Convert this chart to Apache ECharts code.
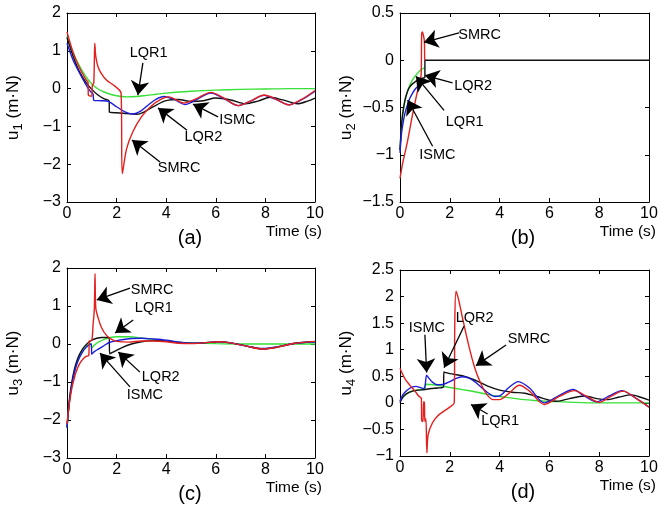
<!DOCTYPE html>
<html>
<head>
<meta charset="utf-8">
<script src="https://cdn.jsdelivr.net/npm/echarts@6/dist/echarts.min.js"></script>
<style>
html, body { margin: 0; padding: 0; background: #fff; }
#chart { width: 672px; height: 509px; }
</style>
</head>
<body>
<div id="chart"></div>
<script>
// time axis: 0..10 s, ticks every 2
const timeRange = [0, 10, 2]
// y ranges [min, max, interval] for u1..u4
const u1Range = [-3, 2, 1]
const u2Range = [-1.5, 0.5, 0.5]
const u3Range = [-3, 2, 1]
const u4Range = [-1, 2.5, 0.5]

const seriesNames = ['LQR1', 'ISMC', 'LQR2', 'SMRC']

// ---- u1 ----
const u1LQR1 = [[0,1.38],[0.25,0.95],[0.5,0.6],[0.75,0.33],[1,0.12],[1.25,-0.01],[1.5,-0.09],[1.75,-0.15],[2,-0.19],[2.4,-0.22],[2.8,-0.21],[3.2,-0.18],[3.6,-0.15],[4,-0.12],[4.5,-0.09],[5,-0.07],[6,-0.04],[7,-0.02],[8,-0.01],[9,0],[10,0]]
const u1ISMC = [[0,1.2],[0.25,0.75],[0.5,0.42],[0.75,0.12],[0.95,-0.08],[1.05,-0.14],[1.08,-0.31],[1.4,-0.32],[1.67,-0.34],[2,-0.48],[2.3,-0.6],[2.65,-0.67],[3,-0.58],[3.3,-0.42],[3.6,-0.28],[3.9,-0.21],[4.3,-0.28],[4.75,-0.42],[5.2,-0.3],[5.8,-0.12],[6.3,-0.25],[6.9,-0.45],[7.4,-0.33],[7.95,-0.18],[8.4,-0.28],[8.95,-0.43],[9.5,-0.28],[10,-0.07]]
const u1LQR2 = [[0,1.35],[0.25,0.85],[0.5,0.45],[0.75,0.18],[1,-0.02],[1.25,-0.17],[1.5,-0.27],[1.7,-0.33],[1.71,-0.62],[2,-0.64],[2.4,-0.66],[2.8,-0.68],[3.1,-0.62],[3.5,-0.47],[4,-0.32],[4.5,-0.29],[5,-0.34],[5.5,-0.32],[6,-0.25],[6.6,-0.3],[7.2,-0.4],[7.7,-0.33],[8.2,-0.23],[8.7,-0.3],[9.3,-0.4],[9.7,-0.33],[10,-0.25]]
const u1SMRC = [[0,1.5],[0.25,0.95],[0.5,0.55],[0.75,0.25],[0.85,0.16],[0.86,-0.17],[1,-0.2],[1.02,0.08],[1.08,0.15],[1.12,1.2],[1.16,0.85],[1.25,0.58],[1.4,0.38],[1.6,0.22],[1.9,0.08],[2.18,-0.12],[2.23,-2.25],[2.4,-1.6],[2.65,-1.15],[3,-0.75],[3.4,-0.46],[3.8,-0.28],[4.1,-0.22],[4.7,-0.38],[5.2,-0.27],[5.8,-0.1],[6.3,-0.24],[6.9,-0.45],[7.4,-0.33],[7.95,-0.17],[8.4,-0.27],[8.95,-0.43],[9.5,-0.27],[10,-0.05]]

// ---- u2 ----
const u2LQR1 = [[0,-0.95],[0.05,-0.75],[0.1,-0.6],[0.2,-0.43],[0.3,-0.33],[0.4,-0.26],[0.5,-0.21],[0.6,-0.17],[0.7,-0.14],[0.8,-0.11],[0.9,-0.09],[1,-0.08]]
const u2ISMC = [[0,-0.98],[0.05,-0.8],[0.1,-0.7],[0.2,-0.56],[0.3,-0.47],[0.4,-0.4],[0.5,-0.35],[0.6,-0.31],[0.7,-0.28],[0.8,-0.26],[0.9,-0.24],[1,-0.22]]
const u2LQR2 = [[0,-0.95],[0.05,-0.72],[0.1,-0.58],[0.2,-0.42],[0.3,-0.33],[0.4,-0.28],[0.5,-0.25],[0.6,-0.23],[0.7,-0.21],[0.8,-0.2],[0.9,-0.19],[1,-0.18],[1,0],[10,0]]
const u2SMRC = [[0,-1.25],[0.1,-1.1],[0.2,-0.98],[0.3,-0.86],[0.4,-0.72],[0.5,-0.58],[0.6,-0.45],[0.7,-0.33],[0.8,-0.22],[0.85,-0.15],[0.87,0.28],[0.9,0.3],[0.95,0.25],[0.98,0.2],[0.99,0]]

// ---- u3 ----
const u3LQR1 = [[0,-2.2],[0.1,-1.5],[0.2,-1.05],[0.3,-0.73],[0.4,-0.5],[0.5,-0.34],[0.6,-0.22],[0.7,-0.12],[0.8,-0.05],[0.9,0],[0.95,0.02],[1,-0.1],[1.1,-0.03],[1.3,0.06],[1.5,0.12],[1.75,0.17],[2,0.19],[2.5,0.19],[3,0.16],[3.5,0.12],[4,0.08],[4.5,0.05],[5,0.03],[6,0.01],[7,0],[8,0],[10,0]]
const u3ISMC = [[0,-2.2],[0.1,-1.5],[0.2,-1.05],[0.3,-0.75],[0.4,-0.52],[0.5,-0.36],[0.6,-0.24],[0.7,-0.14],[0.8,-0.07],[0.9,-0.02],[0.98,0],[1,-0.27],[1.1,-0.2],[1.3,-0.12],[1.5,-0.04],[1.7,0.04],[2,0.09],[2.5,0.14],[3,0.15],[3.5,0.13],[4,0.1],[4.5,0.05],[5,0.02],[5.5,0.03],[6.1,0.06],[6.6,0.03],[7.2,-0.05],[7.9,-0.12],[8.5,-0.07],[9.2,0.02],[10,0.06]]
const u3LQR2 = [[0,-2.2],[0.1,-1.45],[0.2,-0.98],[0.3,-0.66],[0.4,-0.44],[0.5,-0.28],[0.6,-0.16],[0.7,-0.07],[0.8,0],[0.9,0.06],[1,0.1],[1.2,0.15],[1.4,0.17],[1.7,0.17],[1.72,-0.26],[1.9,-0.2],[2.2,-0.1],[2.6,0],[3,0.06],[3.5,0.09],[4,0.08],[4.5,0.04],[5,0.02],[5.5,0.03],[6.1,0.06],[6.6,0.03],[7.2,-0.05],[7.9,-0.13],[8.5,-0.08],[9.2,0.02],[10,0.06]]
const u3SMRC = [[0,-2.1],[0.1,-1.55],[0.2,-1.15],[0.3,-0.88],[0.4,-0.68],[0.5,-0.53],[0.6,-0.43],[0.7,-0.36],[0.8,-0.32],[0.88,-0.3],[0.9,0.08],[1,0.1],[1.05,0.5],[1.1,0.9],[1.13,1.85],[1.16,0.95],[1.25,0.7],[1.4,0.42],[1.6,0.22],[1.8,0.12],[2,0.07],[2.5,0.05],[3,0.08],[3.5,0.08],[4,0.06],[4.5,0.02],[5,0.01],[5.5,0.03],[6.1,0.06],[6.6,0.03],[7.2,-0.05],[7.9,-0.13],[8.5,-0.08],[9.2,0.02],[10,0.07]]

// ---- u4 ----
const u4LQR1 = [[0,0.04],[0.15,0.12],[0.3,0.18],[0.5,0.22],[0.75,0.25],[1,0.26],[1.02,0.35],[1.5,0.33],[2,0.29],[2.5,0.25],[3,0.21],[3.5,0.16],[4,0.12],[4.5,0.09],[5,0.06],[5.5,0.04],[6,0.03],[7,0.01],[8,0],[10,0]]
const u4ISMC = [[0,0.03],[0.1,0.14],[0.2,0.2],[0.35,0.26],[0.5,0.3],[0.65,0.31],[0.8,0.29],[0.95,0.27],[1,0.3],[1.07,0.52],[1.15,0.47],[1.3,0.39],[1.5,0.34],[1.75,0.35],[2,0.4],[2.25,0.46],[2.5,0.49],[2.75,0.47],[3,0.4],[3.25,0.3],[3.5,0.2],[3.8,0.12],[4,0.13],[4.35,0.28],[4.75,0.4],[5.2,0.28],[5.8,0],[6.4,0.14],[6.95,0.25],[7.4,0.13],[7.9,0.02],[8.4,0.13],[8.9,0.23],[9.5,0.08],[10,-0.08]]
const u4LQR2 = [[0,0],[0.1,0.1],[0.25,0.17],[0.5,0.22],[0.75,0.24],[1,0.25],[1.25,0.27],[1.5,0.28],[1.75,0.3],[1.76,0.58],[2,0.55],[2.5,0.51],[3,0.43],[3.5,0.32],[4,0.24],[4.5,0.2],[5,0.18],[5.5,0.12],[6,0.05],[6.3,0.03],[6.8,0.08],[7.4,0.13],[7.9,0.08],[8.3,0.06],[8.8,0.11],[9.3,0.15],[9.7,0.1],[10,0.05]]
const u4SMRC = [[0,0.65],[0.2,0.45],[0.4,0.33],[0.6,0.22],[0.75,0.13],[0.86,0.08],[0.87,-0.33],[0.92,-0.35],[0.95,0.02],[0.98,0],[1,-0.35],[1.04,-0.3],[1.08,-0.94],[1.13,-0.6],[1.3,-0.38],[1.5,-0.25],[1.75,-0.16],[2,-0.08],[2.18,0],[2.2,1.5],[2.25,2.1],[2.35,1.95],[2.5,1.62],[2.75,1.1],[3,0.66],[3.25,0.36],[3.5,0.15],[3.75,0.06],[4,0.06],[4.35,0.17],[4.8,0.33],[5.2,0.22],[5.8,-0.03],[6.4,0.12],[7,0.23],[7.5,0.12],[8,0.01],[8.5,0.13],[8.95,0.22],[9.5,0.08],[10,-0.08]]

// annotations: [text, textT, textV, fromT, fromV, tipT, tipV]
const u1Notes = [['LQR1',3.29,0.94,3.06,0.68,2.86,-0.17],['ISMC',6.87,-0.83,6.09,-0.75,5.08,-0.41],['LQR2',5.5,-1.28,4.84,-1.1,3.67,-0.51],['SMRC',4.52,-2.1,3.75,-1.94,2.62,-1.36]]
const u2Notes = [['SMRC',3.2,0.27,2.37,0.29,0.96,0.19],['LQR2',2.94,-0.27,2.11,-0.24,1.0,-0.16],['LQR1',2.6,-0.65,1.77,-0.53,0.64,-0.17],['ISMC',1.5,-1.0,1.31,-0.91,0.31,-0.42]]
const u3Notes = [['SMRC',3.43,1.42,2.54,1.47,1.2,1.16],['LQR1',3.5,0.95,2.67,0.63,1.94,0.29],['LQR2',3.78,-0.87,2.94,-0.74,2.07,-0.21],['ISMC',3.14,-1.34,2.54,-1.13,1.33,-0.24]]
const u4Notes = [['ISMC',1.08,1.41,1.0,1.28,1.07,0.57],['LQR2',3.0,1.6,2.57,1.44,1.77,0.66],['SMRC',5.18,1.2,4.26,1.09,3.05,0.7],['LQR1',4.02,-0.34,3.52,-0.21,2.85,-0.03]]

const fontFam = '"Liberation Sans", Arial, Helvetica, sans-serif'
const colors = { LQR1: '#36e036', ISMC: '#1c1cdc', LQR2: '#111111', SMRC: '#e3201e' }

// pixel boxes of the four panels
const panels = [
    { grid: { left: 67, top: 13, width: 248, height: 189 }, range: u1Range, sub: '1', tag: '(a)',
      data: { LQR1: u1LQR1, ISMC: u1ISMC, LQR2: u1LQR2, SMRC: u1SMRC }, notes: u1Notes },
    { grid: { left: 400, top: 13, width: 249, height: 189 }, range: u2Range, sub: '2', tag: '(b)',
      data: { LQR1: u2LQR1, ISMC: u2ISMC, LQR2: u2LQR2, SMRC: u2SMRC }, notes: u2Notes },
    { grid: { left: 67, top: 268, width: 248, height: 190 }, range: u3Range, sub: '3', tag: '(c)',
      data: { LQR1: u3LQR1, ISMC: u3ISMC, LQR2: u3LQR2, SMRC: u3SMRC }, notes: u3Notes },
    { grid: { left: 400, top: 270, width: 249, height: 186 }, range: u4Range, sub: '4', tag: '(d)',
      data: { LQR1: u4LQR1, ISMC: u4ISMC, LQR2: u4LQR2, SMRC: u4SMRC }, notes: u4Notes }
]

function minusFmt(v) {
    return String(v).replace('-', '\u2212')
}

let grids = [], xAxes = [], yAxes = [], series = [], graphics = []

panels.forEach(function(p, i) {
    grids.push(p.grid)
    let tickStyle = { show: true, inside: true, length: 4, lineStyle: { color: '#000' } }
    let lineStyle = { show: true, onZero: false, lineStyle: { color: '#000', width: 1 } }
    xAxes.push({
        type: 'value', gridIndex: i, position: 'bottom',
        min: timeRange[0], max: timeRange[1], interval: timeRange[2],
        axisLine: lineStyle, axisTick: tickStyle, splitLine: { show: false },
        axisLabel: { color: '#000', fontSize: 16, fontFamily: fontFam, margin: 4 }
    })
    xAxes.push({
        type: 'value', gridIndex: i, position: 'top',
        min: timeRange[0], max: timeRange[1], interval: timeRange[2],
        axisLine: lineStyle, axisTick: tickStyle, splitLine: { show: false },
        axisLabel: { show: false }
    })
    yAxes.push({
        type: 'value', gridIndex: i, position: 'left',
        min: p.range[0], max: p.range[1], interval: p.range[2],
        axisLine: lineStyle, axisTick: tickStyle, splitLine: { show: false },
        axisLabel: { color: '#000', fontSize: 16, fontFamily: fontFam, margin: 6, formatter: minusFmt },
        name: '{u|u}{s|' + p.sub + '}{u| (m\u00b7N)}',
        nameLocation: 'middle', nameRotate: 90, nameGap: 42,
        nameTextStyle: {
            rich: {
                u: { fontSize: 17, fontFamily: fontFam, color: '#000' },
                s: { fontSize: 13, fontFamily: fontFam, color: '#000', padding: [10, 0, 0, 0] }
            }
        }
    })
    yAxes.push({
        type: 'value', gridIndex: i, position: 'right',
        min: p.range[0], max: p.range[1], interval: p.range[2],
        axisLine: lineStyle, axisTick: tickStyle, splitLine: { show: false },
        axisLabel: { show: false }
    })

    // draw order: green, black, blue, red
    let order = ['LQR1', 'LQR2', 'ISMC', 'SMRC']
    order.forEach(function(name) {
        let s = {
            name: name, type: 'line', xAxisIndex: 2 * i, yAxisIndex: 2 * i,
            data: p.data[name], showSymbol: false, symbol: 'none',
            smooth: 0.3,
            lineStyle: { color: colors[name], width: 1.4 },
            itemStyle: { color: colors[name] },
            animation: false, silent: true
        }
        if (name === 'LQR2') {
            s.markLine = {
                silent: true, animation: false,
                symbol: ['none', 'arrow'], symbolSize: 14,
                lineStyle: { color: '#000', width: 1.3, type: 'solid' },
                label: { show: false },
                data: p.notes.map(function(n) {
                    return [{ coord: [n[3], n[4]] }, { coord: [n[5], n[6]] }]
                })
            }
            s.markPoint = {
                silent: true, animation: false,
                symbol: 'circle', symbolSize: 1,
                itemStyle: { color: 'rgba(0,0,0,0)' },
                label: { show: true, position: 'inside', formatter: '{b}', color: '#000', fontSize: 14.5, fontFamily: fontFam },
                data: p.notes.map(function(n) {
                    return { name: n[0], coord: [n[1], n[2]] }
                })
            }
        }
        series.push(s)
    })

    let cx = p.grid.left + p.grid.width
    let by = p.grid.top + p.grid.height
    graphics.push({
        type: 'text', x: cx + 7, y: by + 30,
        style: { text: 'Time (s)', fill: '#000', font: '15.5px ' + fontFam, align: 'right', verticalAlign: 'middle' }
    })
    graphics.push({
        type: 'text', x: p.grid.left + 123, y: by + 36,
        style: { text: p.tag, fill: '#000', font: '20px ' + fontFam, align: 'center', verticalAlign: 'middle' }
    })
})

let myChart = echarts.init(document.getElementById('chart'), null, { renderer: 'canvas' })
let option = {
    backgroundColor: '#fff',
    animation: false,
    grid: grids,
    xAxis: xAxes,
    yAxis: yAxes,
    series: series,
    graphic: graphics
}
myChart.setOption(option)
</script>
</body>
</html>
